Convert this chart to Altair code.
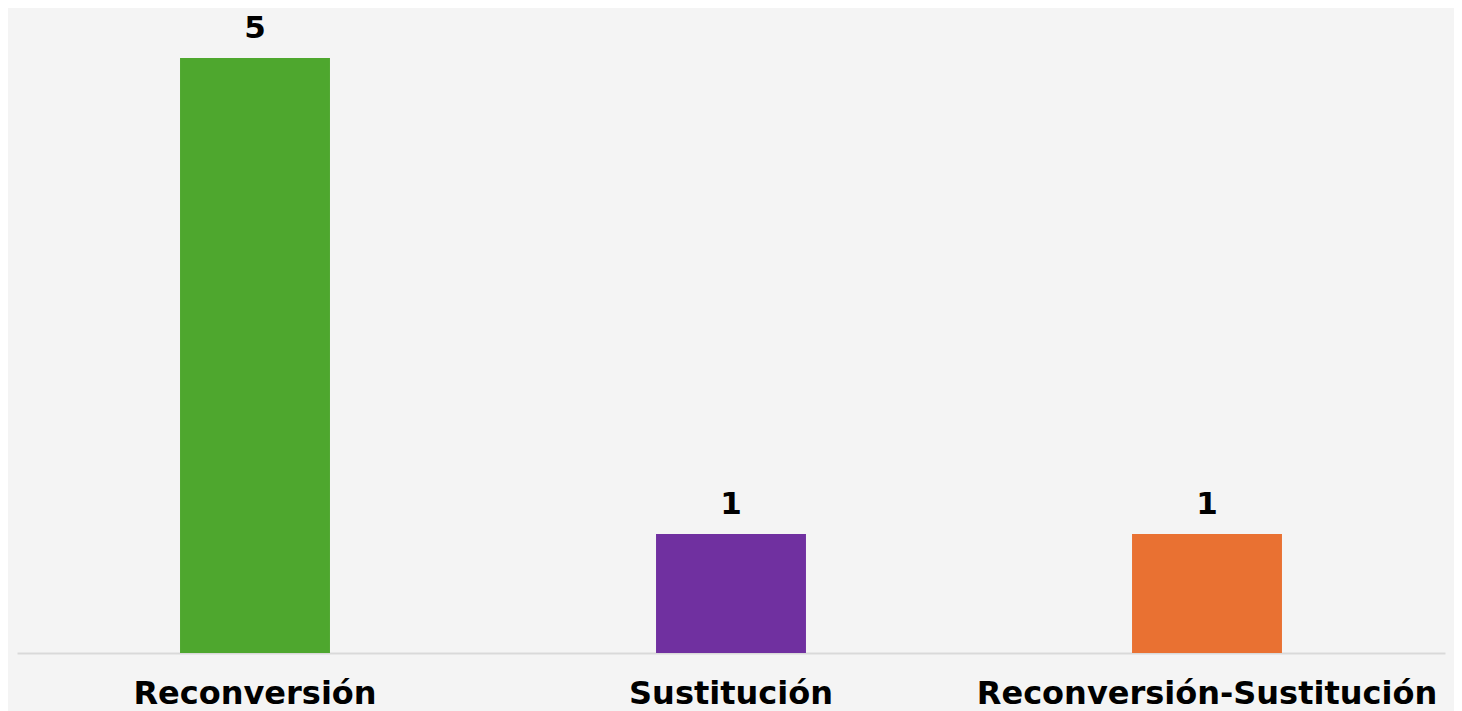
import altair as alt
import pandas as pd

categories = ["Reconversión", "Sustitución", "Reconversión-Sustitución"]
values = [5, 1, 1]
colors = ["#4EA72E", "#7030A0", "#E97132"]

df = pd.DataFrame({"cat": categories, "val": values, "color": colors})

FONT = "DejaVu Sans"

x = alt.X("cat:N", sort=categories,
          scale=alt.Scale(paddingInner=0.685, paddingOuter=0.3425),
          axis=alt.Axis(title=None, labelAngle=0, labelFont=FONT, labelFontSize=32,
                        labelFontWeight="bold", labelColor="#000000", labelPadding=25,
                        labelLimit=0, ticks=False, domainColor="#d9d9d9", domainWidth=2))
y = alt.Y("val:Q", scale=alt.Scale(domain=[0, 5], nice=False), axis=None)

bars = alt.Chart(df).mark_bar().encode(
    x=x, y=y, color=alt.Color("color:N", scale=None)
)
labels = alt.Chart(df).mark_text(
    baseline="alphabetic", dy=-20, font=FONT, fontSize=31, fontWeight="bold", color="#000000"
).encode(x=alt.X("cat:N", sort=categories), y="val:Q", text="val:Q")

chart = (bars + labels).properties(
    width=1428, height=595,
    background="#f4f4f4",
    padding={"left": 9, "top": 50, "right": 9, "bottom": 60},
    autosize=alt.AutoSizeParams(type="none"),
).configure_view(stroke=None)

chart.save("out.html", embed_options={"renderer": "svg", "actions": False})
